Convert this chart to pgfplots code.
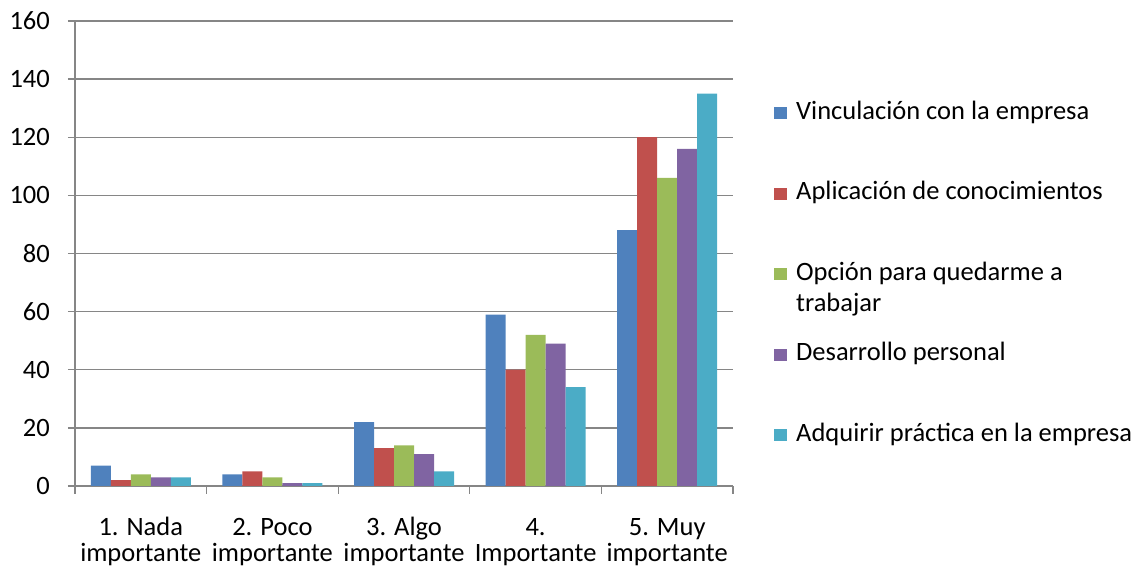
\documentclass[border=0pt]{standalone}
\usepackage{fontspec}
\setmainfont{Carlito}
\usepackage{pgfplots}
\pgfplotsset{compat=1.18}

\definecolor{sBlue}{HTML}{4F81BD}
\definecolor{sRed}{HTML}{C0504D}
\definecolor{sGreen}{HTML}{9BBB59}
\definecolor{sPurple}{HTML}{8064A2}
\definecolor{sAqua}{HTML}{4BACC6}
\definecolor{gridgray}{RGB}{134,134,134}

\newcommand{\lbl}[2]{\begin{tabular}[t]{@{}c@{}}#1\\#2\end{tabular}}

\begin{document}
\begin{tikzpicture}
\begin{axis}[
  scale only axis,
  width=658pt, height=465pt,
  ybar=0pt, bar width=20pt,
  xmin=-0.5, xmax=4.5, ymin=0, ymax=160,
  enlarge x limits=false,
  axis lines=left,
  axis line style={-, draw=gridgray, line width=1.3pt},
  ymajorgrids, grid style={draw=gridgray, line width=1.3pt},
  ytick={0,20,...,160},
  xtick={0,1,2,3,4},
  xticklabels={\lbl{1. Nada}{importante},\lbl{2. Poco}{importante},\lbl{3. Algo}{importante},\lbl{4.}{Importante},\lbl{5. Muy}{importante}},
  minor xtick={-0.5,0.5,...,4.5},
  tick align=outside,
  major tick length=7pt, minor tick length=8pt,
  x tick style={draw=none},
  minor x tick style={draw=gridgray, line width=1.3pt},
  y tick style={draw=gridgray, line width=1.3pt},
  tick label style={font=\fontsize{26.5}{25.5}\selectfont, inner sep=0pt},
  /pgf/number format/assume math mode=true,
  yticklabel style={anchor=east, xshift=-18pt},
  xticklabel style={anchor=base, yshift=-43pt},
  legend style={at={(1.0623,0.828)}, anchor=north west, draw=none, fill=none,
    inner sep=0pt, row sep=56.5pt, column sep=9pt,
    font=\fontsize{26.5}{31}\selectfont,
    nodes={inner sep=0pt, text height=18pt, text depth=6pt, anchor=base west}},
  legend cell align=left,
  legend image code/.code={\fill[#1] (0pt,0pt) rectangle (13pt,12pt);},
]
\addplot[fill=sBlue, draw=none] coordinates {(0,7) (1,4) (2,22) (3,59) (4,88)};
\addplot[fill=sRed, draw=none] coordinates {(0,2) (1,5) (2,13) (3,40) (4,120)};
\addplot[fill=sGreen, draw=none] coordinates {(0,4) (1,3) (2,14) (3,52) (4,106)};
\addplot[fill=sPurple, draw=none] coordinates {(0,3) (1,1) (2,11) (3,49) (4,116)};
\addplot[fill=sAqua, draw=none] coordinates {(0,3) (1,1) (2,5) (3,34) (4,135)};
\addlegendentry{Vinculación con la empresa}
\addlegendentry{Aplicación de conocimientos}
\addlegendentry{\smash{\begin{tabular}[t]{@{}l@{}}Opción para quedarme a\\trabajar\end{tabular}}}
\addlegendentry{Desarrollo personal}
\addlegendentry{Adquirir práctica en la empresa}
\end{axis}
\useasboundingbox (-75pt,-79pt) rectangle (1065pt,486pt);
\end{tikzpicture}
\end{document}
